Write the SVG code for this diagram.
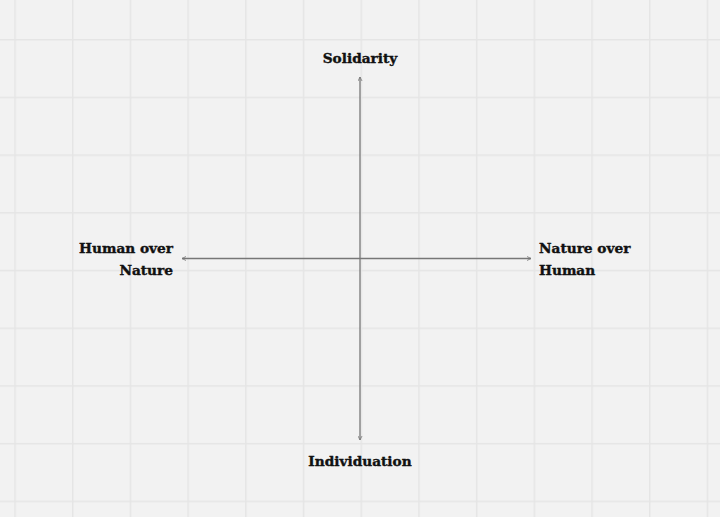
<svg xmlns="http://www.w3.org/2000/svg" width="720" height="517" viewBox="0 0 720 517">
  <defs>
    <pattern id="grid" x="14.3" y="39" width="57.7" height="57.7" patternUnits="userSpaceOnUse">
      <path d="M0.75 0 V57.7 M0 0.75 H57.7" fill="none" stroke="#e5e5e5" stroke-width="1.5"/>
    </pattern>
    <marker id="arr" viewBox="0 0 10 10" refX="9" refY="5" markerWidth="5" markerHeight="5" orient="auto-start-reverse" markerUnits="userSpaceOnUse">
      <path d="M1 1 L9 5 L1 9" fill="none" stroke="#777" stroke-width="1.6"/>
    </marker>
    <style>
      .lbl { font-family: "DejaVu Serif", "Liberation Serif", serif; font-weight: bold; font-size: 13.7px; fill: #111; stroke: #111; stroke-width: 0.4; }
      .axis { stroke: #777; stroke-width: 1.3; fill: none; }
    </style>
  </defs>
  <rect width="720" height="517" fill="#f2f2f2"/>
  <rect width="720" height="517" fill="url(#grid)"/>
  <g id="connectors">
    <line class="axis" x1="360" y1="440" x2="360" y2="77" marker-start="url(#arr)" marker-end="url(#arr)"/>
    <line class="axis" x1="182" y1="258.5" x2="531" y2="258.5" marker-start="url(#arr)" marker-end="url(#arr)"/>
  </g>
  <g id="solidarity">
    <text class="lbl" x="360" y="63" text-anchor="middle">Solidarity</text>
  </g>
  <g id="individuation">
    <text class="lbl" x="360" y="466" text-anchor="middle">Individuation</text>
  </g>
  <g id="human-over-nature">
    <text class="lbl" x="173" y="253" text-anchor="end">Human over</text>
    <text class="lbl" x="173" y="275" text-anchor="end">Nature</text>
  </g>
  <g id="nature-over-human">
    <text class="lbl" x="539" y="253">Nature over</text>
    <text class="lbl" x="539" y="275">Human</text>
  </g>
</svg>
